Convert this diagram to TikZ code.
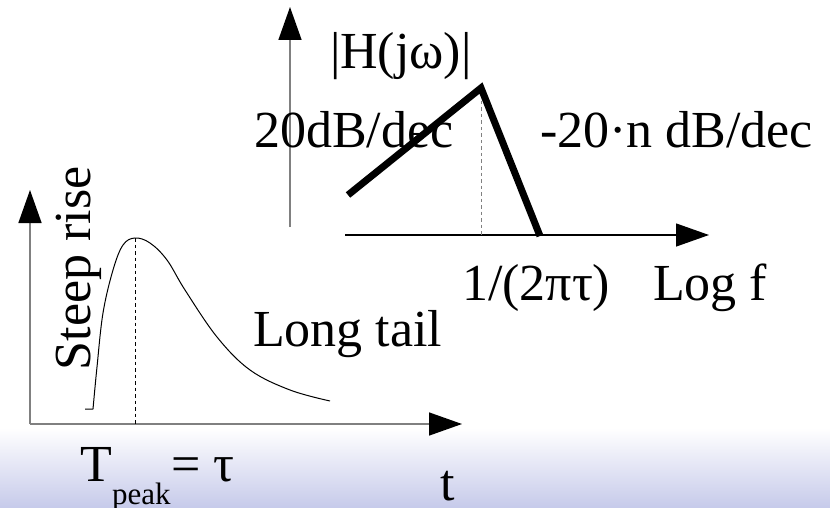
\documentclass[tikz,border=0pt]{standalone}
\usepackage{fontspec}
\setmainfont{Liberation Serif}
\usetikzlibrary{arrows.meta}
\definecolor{bandblue}{RGB}{198,202,234}
\definecolor{axisgray}{RGB}{128,128,128}
\begin{document}
\begin{tikzpicture}[x=1pt,y=-1pt,
  lbl/.style={inner sep=0pt, outer sep=0pt, anchor=base west, font=\fontsize{52}{60}\selectfont},
  sublbl/.style={lbl, font=\fontsize{31}{36}\selectfont},
  axisline/.style={line width=1.5pt, draw=axisgray, -{Triangle[length=33pt,width=23pt,color=black]}},
  axisblack/.style={line width=1.3pt, draw=black, -{Triangle[length=33pt,width=23pt,color=black]}},
  guide/.style={line width=0.8pt, dash pattern=on 3.5pt off 3pt},
  bode/.style={line width=7pt, line join=miter, line cap=butt},
  pulse/.style={line width=1pt}
]
\useasboundingbox (0,0) rectangle (830,508);
\shade[top color=white, bottom color=bandblue] (0,428) rectangle (830,508);

% ---- left plot (time domain)
\coordinate (lo) at (30,424);
\coordinate (ltop) at (30,190);
\coordinate (lright) at (462,424);
\draw[axisline] (lo) -- (ltop);
\draw[axisline] (lo) -- (lright);
\coordinate (pk) at (135,238);
\coordinate (pkbase) at (135,424);
\draw[guide] (pk) -- (pkbase);
\draw[pulse] (85,409) -- (93,409) plot[smooth, tension=0.6] coordinates {(93,409) (97,367) (103,313) (113,270) (123,245) (135,238) (150,243) (167,260) (185,290) (217,337) (250,370) (290,390) (330,401)};

\node[lbl, rotate=90] (steep) at (90,370) {Steep rise};
\node[lbl] (tail) at (253,346) {Long tail};
\node[lbl] (T) at (80,481) {T};
\node[sublbl] (peak) at (112,504) {peak};
\node[lbl] (eqtau) at (171,481) {= τ};
\node[lbl] (t) at (440,500) {t};

% ---- right plot (frequency domain)
\coordinate (ro) at (290,227);
\coordinate (rtop) at (290,7);
\coordinate (rxs) at (345,235);
\coordinate (rxe) at (709,235);
\draw[axisline] (ro) -- (rtop);
\draw[axisblack] (rxs) -- (rxe);
\coordinate (b1) at (348,195);
\coordinate (bp) at (481,88);
\coordinate (b2) at (540,236);
\coordinate (bpbase) at (481,235);
\draw[guide, draw=axisgray] (bp) -- (bpbase);
\draw[bode] (b1) -- (bp) -- (b2);

\node[lbl] (H) at (330,69) {|H(jω)|};
\node[lbl] (rise) at (254,147) {20dB/dec};
\node[lbl] (fall) at (540,147) {-20·n dB/dec};
\node[lbl] (fc) at (462,300) {1/(2πτ)};
\node[lbl] (logf) at (653,300) {Log f};
\end{tikzpicture}
\end{document}
